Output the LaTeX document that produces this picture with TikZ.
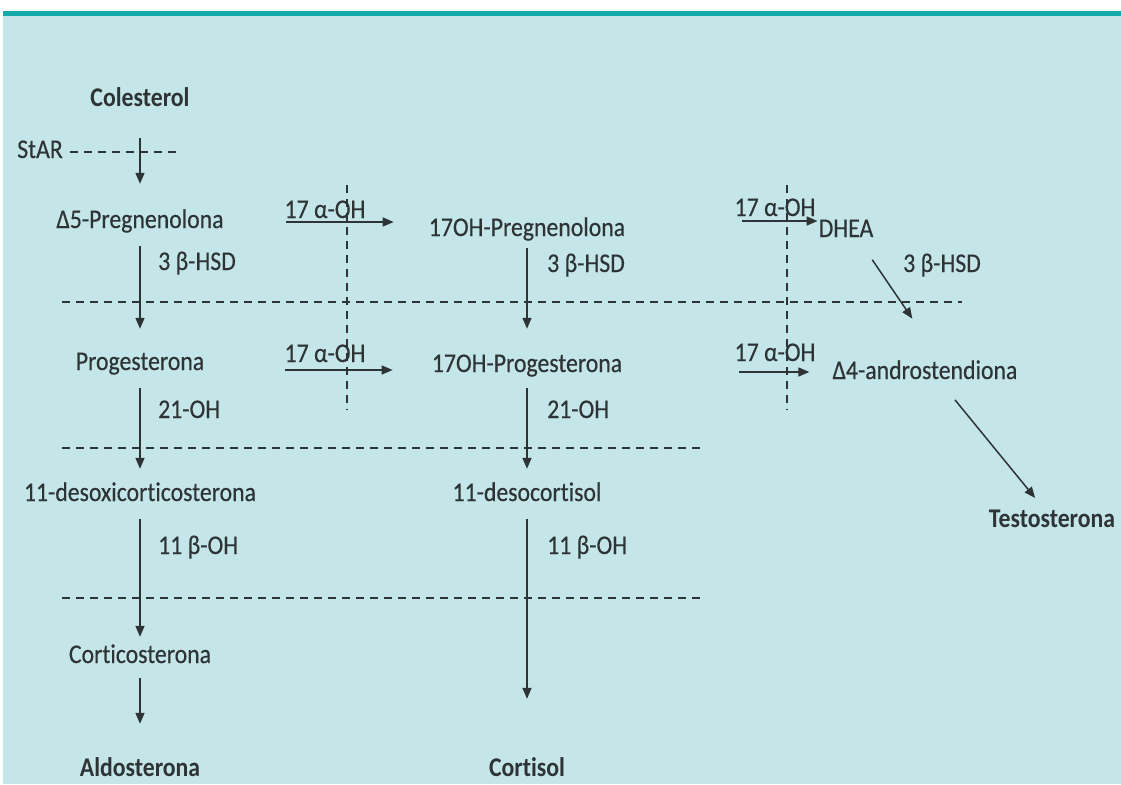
\documentclass[tikz,border=0pt]{standalone}
\usepackage{fontspec}
\setmainfont{Carlito}[FakeStretch=0.88, Ligatures={NoCommon,NoRare}, UprightFeatures={FakeBold=0.4}]
\usetikzlibrary{arrows.meta,positioning,calc}
\definecolor{bgblue}{HTML}{C4E6E8}
\definecolor{bandteal}{HTML}{14A9AA}
\definecolor{inkgray}{HTML}{2E3436}
\tikzset{
    stepname/.style={inner sep=0pt, text height=18pt, text depth=6pt,
        font=\fontsize{27}{31}\selectfont, text=inkgray},
    endname/.style={stepname, font=\fontsize{27}{31}\selectfont\bfseries},
    enzlabel/.style={stepname, anchor=west},
    patharrow/.style={-{Triangle[length=11pt, width=9pt]}, line width=1.5pt, draw=inkgray},
    blockline/.style={dash pattern=on 8pt off 6pt, line width=1.3pt, draw=inkgray}
}

\begin{document}
\begin{tikzpicture}[x=1pt, y=-1pt]
\useasboundingbox (0,0) rectangle (1121,784);
\fill[white] (0,0) rectangle (1121,784);
\fill[bgblue] (3,15) rectangle (1121,784);
\fill[bandteal] (3,11) rectangle (1121,16);

% metabolites
\node[endname] (chol) at (140,100) {Colesterol};
\node[stepname] (star) at (40,152) {StAR};
\node[stepname] (preg) at (140,222) {Δ5-Pregnenolona};
\node[stepname] (ohpreg) at (527,230) {17OH-Pregnenolona};
\node[stepname] (dhea) at (846,231) {DHEA};
\node[stepname] (prog) at (140,364) {Progesterona};
\node[stepname] (ohprog) at (527,366) {17OH-Progesterona};
\node[stepname] (d4) at (925,373) {Δ4-androstendiona};
\node[endname] (testo) at (1052,521) {Testosterona};
\node[stepname] (doc) at (140,495) {11-desoxicorticosterona};
\node[stepname] (dcl) at (527,495) {11-desocortisol};
\node[stepname] (cortico) at (140,657) {Corticosterona};
\node[endname] (aldo) at (140,770) {Aldosterona};
\node[endname] (cortisol) at (527,770) {Cortisol};

% enzymes
\node[stepname] (hyd1) at (325,212) {17 α-OH};
\node[stepname] (hyd2) at (775,210) {17 α-OH};
\node[stepname] (hyd3) at (325,356) {17 α-OH};
\node[stepname] (hyd4) at (775,355) {17 α-OH};
\node[enzlabel] (hsd1) at (158,264) {3 β-HSD};
\node[enzlabel] (hsd2) at (547,266) {3 β-HSD};
\node[enzlabel] (hsd3) at (903,266) {3 β-HSD};
\node[enzlabel] (cyp1) at (158,412) {21-OH};
\node[enzlabel] (cyp2) at (547,412) {21-OH};
\node[enzlabel] (elev1) at (158,548) {11 β-OH};
\node[enzlabel] (elev2) at (547,548) {11 β-OH};

% blocks
\draw[blockline] (70,152) -- (180,152);
\draw[blockline] (347,185) -- (347,410);
\draw[blockline] (787,185) -- (787,410);
\draw[blockline] (62,302) -- (962,302);
\draw[blockline] (62,448) -- (700,448);
\draw[blockline] (62,598) -- (700,598);

% pathway
\draw[patharrow, shorten <=26pt, shorten >=26pt] (chol) -- (preg);
\draw[patharrow, shorten <=12pt, shorten >=23pt] (preg) -- (prog);
\draw[patharrow, shorten <=12pt, shorten >=14pt] (prog) -- (doc);
\draw[patharrow, shorten <=12pt, shorten >=8pt] (doc) -- (cortico);
\draw[patharrow, shorten <=9pt, shorten >=34pt] (cortico) -- (aldo);
\draw[patharrow, shorten <=6pt, shorten >=25pt] (ohpreg) -- (ohprog);
\draw[patharrow, shorten <=10pt, shorten >=14pt] (ohprog) -- (dcl);
\draw[patharrow, shorten <=12pt, shorten >=59pt] (dcl) -- (cortisol);
\draw[patharrow, shorten <=62pt, shorten >=35pt] (preg.east) -- (preg.east -| ohpreg.west);
\draw[patharrow, shorten <=81pt, shorten >=39pt] (prog.base east) -- (prog.base east -| ohprog.west);
\draw[patharrow, shorten <=117pt, shorten >=1pt] ([yshift=9pt]ohpreg.east) -- ([yshift=9pt]ohpreg.east -| dhea.west);
\draw[patharrow, shorten <=117pt, shorten >=23pt] (ohprog.base east) -- (ohprog.base east -| d4.west);
\draw[patharrow, shorten <=20pt, shorten >=51pt] ([xshift=15pt]dhea.south) -- ([xshift=16pt]d4.north);
\draw[patharrow, shorten <=19pt, shorten >=14pt] ([xshift=18pt]d4.south) -- ([xshift=-8pt]testo.north);
\end{tikzpicture}
\end{document}
